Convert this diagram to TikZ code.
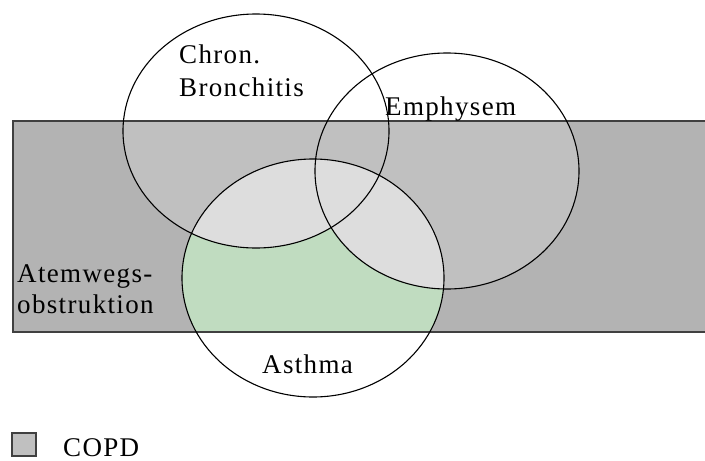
\documentclass[tikz,border=0pt]{standalone}
\usepackage{fontspec}
\setmainfont{Liberation Serif}[LetterSpace=5.0]
\definecolor{rectdark}{HTML}{B3B3B3}
\definecolor{silverc}{HTML}{C0C0C0}
\definecolor{lightc}{HTML}{DDDDDD}
\definecolor{greenc}{HTML}{C0DCC0}
\definecolor{edgec}{HTML}{404040}
\tikzset{
  lbl/.style={anchor=base west, inner sep=0pt, font=\fontsize{27}{31}\selectfont},
  ringline/.style={draw=black, line width=1.1pt},
  boxline/.style={draw=edgec, line width=1.6pt},
}
\begin{document}
\begin{tikzpicture}[x=1pt,y=-1pt]
\useasboundingbox (0,0) rectangle (705,461);
\fill[white] (0,0) rectangle (705,461);
% COPD rectangle
\fill[rectdark] (13,121) rectangle (712,332);
\begin{scope}
  \clip (13,121) rectangle (712,332);
  \fill[silverc] (256,131) ellipse [x radius=133pt, y radius=117pt];
  \fill[silverc] (447,171) ellipse [x radius=132pt, y radius=118pt];
  \clip (313,278) ellipse [x radius=131pt, y radius=119pt];
  \fill[greenc] (13,121) rectangle (712,332);
  \fill[lightc] (256,131) ellipse [x radius=133pt, y radius=117pt];
  \fill[lightc] (447,171) ellipse [x radius=132pt, y radius=118pt];
\end{scope}
\draw[boxline] (13,121) rectangle (712,332);
% circles
\draw[ringline] (256,131) ellipse [x radius=133pt, y radius=117pt];
\draw[ringline] (447,171) ellipse [x radius=132pt, y radius=118pt];
\draw[ringline] (313,278) ellipse [x radius=131pt, y radius=119pt];
% labels
\node[lbl] (chron) at (179,63) {Chron.};
\node[lbl] (bron) at (179,96) {Bronchitis};
\node[lbl] (emph) at (385,115) {Emphysem};
\node[lbl] (atem) at (17,282) {Atemwegs-};
\node[lbl] (obst) at (17,313) {obstruktion};
\node[lbl] (asth) at (262,373) {Asthma};
% legend
\draw[boxline, fill=silverc] (12,433) rectangle (36,456);
\node[lbl, text depth=0pt] (copd) at (63,456) {COPD};
\end{tikzpicture}
\end{document}
